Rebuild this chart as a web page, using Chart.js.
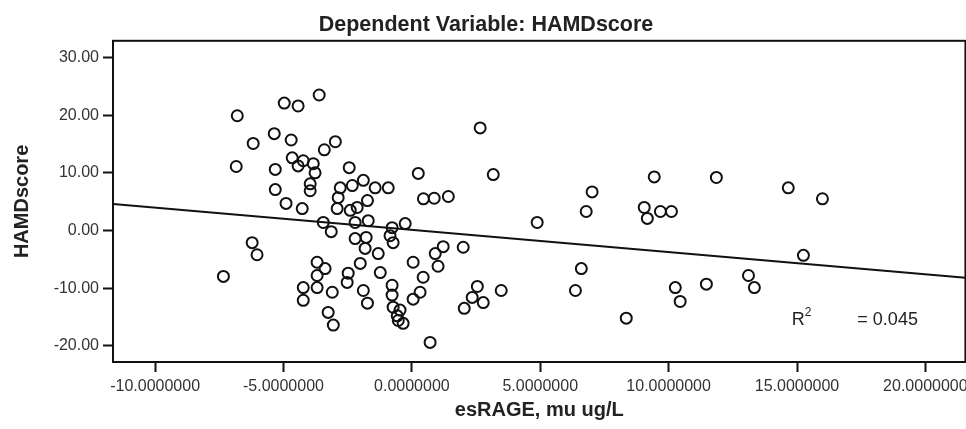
<!DOCTYPE html>
<html>
<head>
<meta charset="utf-8">
<script src="https://cdn.jsdelivr.net/npm/chart.js@4.4.1/dist/chart.umd.min.js"></script>
<style>
  html, body { margin: 0; padding: 0; background: #fff; overflow: hidden; }
  /* the scan cuts the plot off at its right edge, so the canvas runs a bit past the window */
  #wrap { width: 966px; height: 429px; overflow: hidden; }
</style>
</head>
<body>
<div id="wrap"><canvas id="chart" width="973" height="429"></canvas></div>
<script>
// esRAGE (mu ug/L) vs HAMD score
const esRAGE = [
  -7.34, -6.80, -6.84, -6.18, -6.22, -6.03, -4.97, -4.43, -3.61, -5.36,
  -4.70, -2.98, -3.41, -5.32, -5.32, -4.66, -4.43, -4.23, -3.84, -3.77,
  -3.96, -3.96, -4.90, -4.27, -2.44, -2.79, -2.32, -2.87, -2.91, -2.40,
  -2.21, -3.45, -3.14, -2.21, -1.82, -1.78, -1.31, -0.73, -0.85, -2.01,
  -1.23, -3.69, -3.38, -3.69, -4.23, -3.69, -3.10, -4.23, -2.48, -2.52,
  -3.26, -3.06, -1.89, -1.73, -0.77, -0.77, -0.73, -0.46, -0.53, -0.34,
  0.44, 0.32, 0.05, 0.05, 0.71, -1.89, -1.43, -0.92, -1.73, -2.13,
  -1.70, -0.77, -0.26, 0.25, 0.45, 0.87, 1.42, 2.66, 3.17, 1.22,
  0.91, 1.02, 2.00, 2.55, 2.35, 2.78, 2.04, 3.48, 4.88, 7.02,
  6.79, 9.44, 9.05, 9.17, 9.68, 10.11, 11.86, 14.66, 15.99, 15.25,
  6.60, 6.37, 8.35, 10.26, 10.45, 11.47, 13.11, 13.34, -0.57
];
const hamd = [
  -7.96, 19.9, 11.1, 15.1, -2.1, -4.2, 22.1, 21.6, 23.5, 16.8,
  15.7, 15.4, 14.0, 10.6, 7.1, 12.6, 11.2, 12.1, 11.6, 10.0,
  8.1, 6.9, 4.7, 3.8, 10.9, 7.4, 7.8, 5.7, 3.8, 3.5,
  1.4, 1.4, -0.2, -1.4, -3.1, -1.2, -4.0, -2.1, -0.9, -5.7,
  -7.3, -5.5, -6.6, -7.8, -9.9, -9.9, -10.7, -12.1, -7.4, -9.0,
  -14.2, -16.4, -10.4, -12.6, -9.5, -11.2, -13.3, -13.8, -15.6, -16.1,
  -8.1, -10.7, -11.9, -5.5, -19.4, 8.7, 7.4, 7.4, 5.2, 4.0,
  1.7, 0.5, 1.2, 9.9, 5.5, 5.6, 5.9, 17.8, 9.7, -2.8,
  -4.0, -6.2, -2.9, -9.7, -11.6, -12.5, -13.5, -10.4, 1.4, 6.7,
  3.3, 9.3, 4.0, 2.1, 3.3, 3.3, 9.2, 7.4, 5.5, -4.3,
  -6.6, -10.4, -15.2, -9.9, -12.3, -9.3, -7.8, -9.9, -14.8
];

// linear fit line, drawn across the whole x range
const fitX = [-11.64, 21.56];
const fitY = [4.6, -8.2];

const xTicks = [-10, -5, 0, 5, 10, 15, 20];
const yTicks = [-20, -10, 0, 10, 20, 30];
const rSquared = "0.045";

const FONT = "'Liberation Sans', Arial, Helvetica, sans-serif";

// frame around the plot + R² note
const framePlugin = {
  id: "frame",
  afterDraw(chart) {
    const { ctx, chartArea: a, scales } = chart;
    ctx.save();
    ctx.strokeStyle = "#111";
    ctx.lineWidth = 2;
    ctx.strokeRect(a.left, a.top, a.right - a.left, a.bottom - a.top);

    const rx = scales.x.getPixelForValue(14.8);
    const ry = scales.y.getPixelForValue(-16.4);
    ctx.fillStyle = "#222";
    ctx.textBaseline = "alphabetic";
    ctx.font = "18px " + FONT;
    ctx.fillText("R", rx, ry);
    ctx.font = "12px " + FONT;
    ctx.fillText("2", rx + 13, ry - 9);
    ctx.font = "18px " + FONT;
    ctx.fillText("= " + rSquared, scales.x.getPixelForValue(17.35), ry);
    ctx.restore();
  }
};

const ctx = document.getElementById("chart").getContext("2d");
new Chart(ctx, {
  type: "scatter",
  data: {
    datasets: [
      {
        label: "HAMDscore",
        data: esRAGE.map((x, i) => ({ x: x, y: hamd[i] })),
        pointStyle: "circle",
        pointRadius: 5.5,
        borderWidth: 2,
        borderColor: "#111",
        backgroundColor: "rgba(0,0,0,0)",
      },
      {
        type: "line",
        label: "fit",
        data: fitX.map((x, i) => ({ x: x, y: fitY[i] })),
        borderColor: "#111",
        borderWidth: 2,
        pointRadius: 0,
        fill: false,
      },
    ],
  },
  options: {
    responsive: false,
    animation: false,
    layout: { padding: { left: 0, right: 1, top: 0, bottom: 0 } },
    plugins: {
      legend: { display: false },
      tooltip: { enabled: false },
      title: {
        display: true,
        text: "Dependent Variable: HAMDscore",
        color: "#222",
        font: { family: FONT, size: 21.5, weight: "bold" },
        padding: { top: 12, bottom: 3 },
      },
    },
    scales: {
      x: {
        type: "linear",
        min: -11.64,
        max: 21.56,
        afterBuildTicks: (scale) => { scale.ticks = xTicks.map(v => ({ value: v })); },
        afterFit: (scale) => { scale.height = 67; },
        grid: { drawOnChartArea: false, drawTicks: true, tickLength: 10, tickWidth: 2, tickColor: "#111" },
        border: { display: true, width: 2, color: "#111" },
        ticks: {
          color: "#333",
          padding: 5,
          maxRotation: 0,
          autoSkip: false,
          font: { family: FONT, size: 16 },
          callback: (v) => Number(v).toFixed(7),
        },
        title: {
          display: true,
          text: "esRAGE, mu ug/L",
          color: "#222",
          font: { family: FONT, size: 20, weight: "bold" },
          padding: { top: 4, bottom: 7 },
        },
      },
      y: {
        type: "linear",
        min: -22.8,
        max: 32.9,
        afterBuildTicks: (scale) => { scale.ticks = yTicks.map(v => ({ value: v })); },
        afterFit: (scale) => { scale.width = 113; },
        grid: { drawOnChartArea: false, drawTicks: true, tickLength: 10, tickWidth: 2, tickColor: "#111" },
        border: { display: true, width: 2, color: "#111" },
        ticks: {
          color: "#333",
          padding: 4,
          autoSkip: false,
          font: { family: FONT, size: 16 },
          callback: (v) => Number(v).toFixed(2),
        },
        title: {
          display: true,
          text: "HAMDscore",
          color: "#222",
          font: { family: FONT, size: 20, weight: "bold" },
          padding: { top: 10, bottom: 0 },
        },
      },
    },
  },
  plugins: [framePlugin],
});
</script>
</body>
</html>
